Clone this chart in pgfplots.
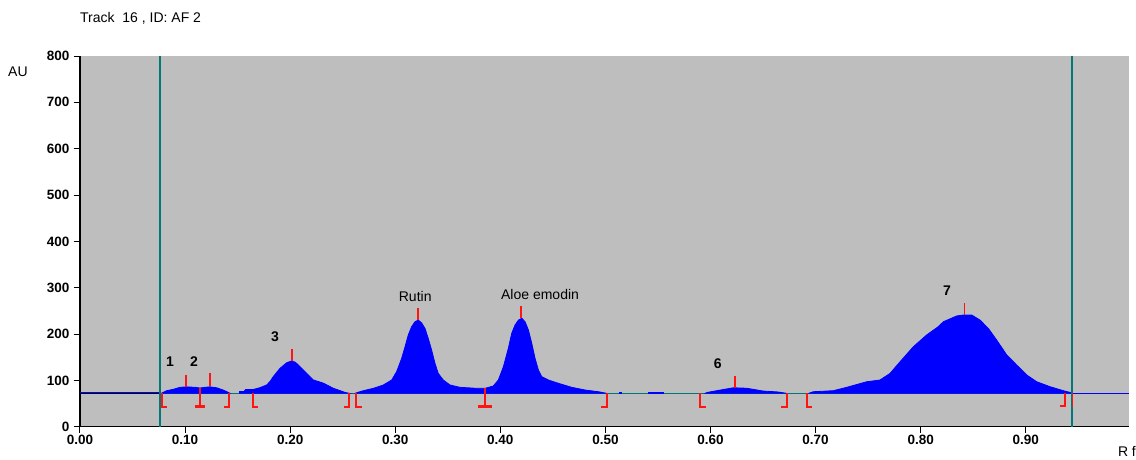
\documentclass[border=0pt]{standalone}
\usepackage{pgfplots}
\pgfplotsset{compat=1.18}
\usepackage{fontspec}
\setmainfont{Liberation Sans}
\definecolor{bggray}{RGB}{190,190,190}
\definecolor{teal2}{RGB}{0,120,120}
\definecolor{sigblue}{RGB}{0,0,255}
\definecolor{mred}{RGB}{255,20,20}
\begin{document}
\begin{tikzpicture}
\begin{axis}[
  scale only axis, width=1049pt, height=370.7pt,
  xmin=0, xmax=0.9983, ymin=0, ymax=800,
  clip=false,
  axis background/.style={fill=bggray},
  axis x line*=bottom, axis y line*=left,
  axis line style={line width=1.5pt, black, -},
  xtick={0,0.1,0.2,0.3,0.4,0.5,0.6,0.7,0.8,0.9},
  ytick={0,100,200,300,400,500,600,700,800},
  tick align=outside, major tick length=6pt,
  tick style={line width=1pt, black},
  scaled x ticks=false,
  /pgf/number format/assume math mode=true,
  xticklabel style={/pgf/number format/.cd, fixed, fixed zerofill, precision=2, /tikz/.cd, font=\fontsize{13.5}{15}\selectfont\bfseries, yshift=1pt},
  yticklabel style={font=\fontsize{13.5}{15}\selectfont\bfseries, xshift=-1pt},
  unbounded coords=jump,
]
% left black baseline
\addplot[black, line width=1.8pt] coordinates {(0,72)(0.076,72)};
\addplot[sigblue, line width=0.7pt] coordinates {(0,73.8)(0.076,73.8)};
% teal baseline between start and end
\addplot[teal2, line width=1.5pt] coordinates {(0.076,72)(0.944,72)};
% right blue line
\addplot[sigblue, line width=1.6pt] coordinates {(0.944,72)(0.9983,72)};
% signal segments
\addplot[fill=sigblue, draw=sigblue, line width=0.8pt] coordinates {
(0.0765,72)(0.0777,72.5)(0.0825,77.7)(0.0888,80.7)(0.0952,85)(0.1015,86)(0.1094,85)(0.1142,83.5)(0.119,85)(0.1237,86)(0.1301,84)(0.1364,79)(0.1412,74)(0.1428,72)} -- cycle;
\addplot[fill=sigblue, draw=sigblue, line width=0.8pt] coordinates {
(0.1516,72)(0.1518,76)(0.156,76)(0.1575,80)(0.165,80.5)(0.171,84)(0.1776,90)(0.181,98)(0.1839,108)(0.1903,126)(0.1967,138)(0.2014,142)(0.205,139)(0.2078,133)(0.2157,115)(0.222,101)(0.2316,94)(0.241,83)(0.2522,74)(0.2565,72)} -- cycle;
\addplot[fill=sigblue, draw=sigblue, line width=0.8pt] coordinates {
(0.262,72)(0.2633,73.4)(0.2696,77.7)(0.2791,82.8)(0.2886,90)(0.2966,100.8)(0.3013,118.7)(0.3061,147.6)(0.3093,172.6)(0.3124,198)(0.3156,216)(0.3188,226.6)(0.3219,230)(0.3251,224)(0.3283,212)(0.3314,190.6)(0.3346,165.5)(0.3378,136.8)(0.3409,115)(0.3457,100.8)(0.3521,90)(0.3616,85)(0.3775,82.8)(0.3854,82.8)
(0.3933,87.8)(0.3981,100.8)(0.4029,129.5)(0.4076,169)(0.4108,201.5)(0.414,219.5)(0.4172,230)(0.4204,234)(0.4235,226.6)(0.4267,208.7)(0.4299,180)(0.4330,147.6)(0.4362,122.4)(0.4394,108)(0.4457,100.8)(0.4552,93.7)(0.4679,85)(0.4806,79.2)(0.4933,75.5)(0.5012,72)} -- cycle;
\addplot[fill=sigblue, draw=sigblue, line width=0.8pt] coordinates {(0.5135,72)(0.5135,75)(0.515,75)(0.515,72)} -- cycle;
\addplot[fill=sigblue, draw=sigblue, line width=0.8pt] coordinates {(0.5405,72)(0.5405,75)(0.5548,75)(0.5548,72)} -- cycle;
\addplot[fill=sigblue, draw=sigblue, line width=0.8pt] coordinates {
(0.5948,72)(0.597,74)(0.609,79)(0.6217,84)(0.6345,83)(0.650,77)(0.664,75)(0.6725,72)} -- cycle;
\addplot[fill=sigblue, draw=sigblue, line width=0.8pt] coordinates {
(0.6935,72)(0.6978,75.5)(0.7169,77.7)(0.7296,85)(0.7486,97)(0.7613,100.8)(0.7708,115)(0.7803,140)(0.7930,172.6)(0.8057,198)(0.8168,216)(0.8216,226.6)(0.8343,239)(0.8406,241)(0.8486,241)(0.8565,230)(0.8644,212)(0.8723,187)(0.8819,154.7)(0.8914,133)(0.9009,111.6)(0.9104,97)(0.9231,86.3)(0.9358,77.7)(0.9421,74)(0.9436,72)} -- cycle;
% start/end verticals
\addplot[teal2, line width=2pt] coordinates {(0.0762,0)(0.0762,800)};
\addplot[teal2, line width=2pt] coordinates {(0.9437,0)(0.9437,800)};
% red peak ticks
\addplot[mred, line width=1.8pt] coordinates {
(0.1009,86)(0.1009,112) (0,nan)
(0.1237,88)(0.1237,115) (0,nan)
(0.2014,142)(0.2014,168) (0,nan)
(0.3219,230)(0.3219,256) (0,nan)
(0.4197,235)(0.4197,261) (0,nan)
(0.6234,84)(0.6234,110) (0,nan)
(0.8416,241)(0.8416,267)};
% red start/end brackets
\addplot[mred, line width=1.8pt] coordinates {
(0.0777,72)(0.0777,43)(0.0825,43) (0,nan)
(0.142,72)(0.142,43)(0.137,43) (0,nan)
(0.1643,72)(0.1643,43)(0.1697,43) (0,nan)
(0.2563,72)(0.2563,43)(0.2512,43) (0,nan)
(0.2624,72)(0.2624,43)(0.268,43) (0,nan)
(0.5012,72)(0.5012,43)(0.4955,43) (0,nan)
(0.590,72)(0.590,43)(0.5954,43) (0,nan)
(0.6725,72)(0.6725,43)(0.6671,43) (0,nan)
(0.6915,72)(0.6915,43)(0.6963,43) (0,nan)
(0.9374,72)(0.9374,45)(0.9326,45) (0,nan)
(0.9444,72)(0.9444,43)};
% red boundary markers
\addplot[mred, line width=2.6pt] coordinates {
(0.1142,84)(0.1142,43) (0,nan)
(0.1094,43)(0.119,43) (0,nan)
(0.3854,83)(0.3854,43) (0,nan)
(0.3791,43)(0.3918,43)};
% peak labels
\node[font=\fontsize{14}{16}\selectfont\bfseries] at (axis cs:0.0857,140) {1};
\node[font=\fontsize{14}{16}\selectfont\bfseries] at (axis cs:0.1085,140) {2};
\node[font=\fontsize{14}{16}\selectfont\bfseries] at (axis cs:0.1856,195) {3};
\node[font=\fontsize{14}{16}\selectfont] at (axis cs:0.319,282) {Rutin};
\node[font=\fontsize{14}{16}\selectfont] at (axis cs:0.4378,286) {Aloe emodin};
\node[font=\fontsize{14}{16}\selectfont\bfseries] at (axis cs:0.607,135) {6};
\node[font=\fontsize{14}{16}\selectfont\bfseries] at (axis cs:0.825,293) {7};
% titles
\node[anchor=west, font=\fontsize{14}{16}\selectfont, inner sep=0pt] at (rel axis cs:0,1) [yshift=38pt] {Track\ \ 16 , ID: AF 2};
\node[anchor=west, font=\fontsize{14}{16}\selectfont, inner sep=0pt] at (rel axis cs:0,1) [xshift=-72pt, yshift=-16pt] {AU};
\node[anchor=east, font=\fontsize{14}{16}\selectfont, inner sep=0pt] at (rel axis cs:1,0) [xshift=7pt, yshift=-25pt] {R f};
\end{axis}
\pgfresetboundingbox
\path[use as bounding box] (-80pt,-32.3pt) rectangle (1056pt,426.7pt);
\end{tikzpicture}
\end{document}
